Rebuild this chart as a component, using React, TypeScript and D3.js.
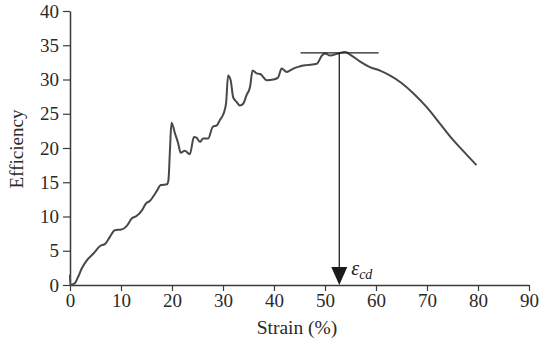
import { useEffect, useRef } from "react";
import * as d3 from "d3";

// Strain (%) vs efficiency
const strain = [
  0, 0.05, 0.5, 1.0, 1.6, 2.3, 3.3, 4.6, 5.9, 6.9, 7.8, 8.8, 10.1, 11.1, 12.1, 13.1, 14.1, 14.9,
  15.7, 16.3, 17.0, 17.8, 19.0, 19.3, 19.6, 19.9, 20.6, 21.2, 21.7, 22.5, 23.5, 24.3, 24.8, 25.5,
  26.1, 27.1, 28.0, 28.8, 29.4, 30.1, 30.6, 31.0, 31.5, 32.0, 32.7, 33.3, 34.0, 34.6, 35.3, 35.8,
  36.6, 37.3, 38.6, 39.9, 40.8, 41.5, 42.5, 43.1, 43.8, 45.0, 46.4, 48.4, 49.4, 50.0, 51.0, 52.6,
  53.9, 55.2, 56.9, 58.8, 60.8, 62.7, 65.0, 67.3, 69.9, 72.5, 75.2, 77.8, 79.7,
];
const efficiency = [
  1.5, 0, 0.1, 0.3, 1.2, 2.4, 3.6, 4.6, 5.7, 6.0, 7.0, 8.0, 8.1, 8.6, 9.7, 10.1, 10.9, 11.9,
  12.3, 12.9, 13.7, 14.6, 14.7, 15.3, 19.7, 23.7, 22.1, 20.7, 19.3, 19.6, 19.1, 21.6, 21.5, 20.9,
  21.4, 21.4, 23.1, 23.3, 24.1, 25.0, 26.5, 30.6, 29.9, 27.4, 26.7, 26.2, 26.5, 27.7, 28.9, 31.3,
  30.9, 30.8, 29.9, 30.0, 30.3, 31.6, 31.1, 31.3, 31.6, 31.9, 32.1, 32.3, 33.5, 33.8, 33.5, 33.8,
  34.0, 33.5, 32.6, 31.8, 31.3, 30.6, 29.5, 28.0, 26.0, 23.6, 21.1, 19.0, 17.5,
];

const xTicks = [0, 10, 20, 30, 40, 50, 60, 70, 80, 90];
const yTicks = [0, 5, 10, 15, 20, 25, 30, 35, 40];

// peak marker: horizontal line span and arrow position
const peakLine = [45.2, 60.5];
const peakValue = 33.9;
const peakStrain = 52.8;

export default function App() {
  const svgRef = useRef<SVGSVGElement>(null);

  useEffect(() => {
    if (!svgRef.current) return;
    const width = 539;
    const height = 351;
    const margin = { top: 11, right: 10, bottom: 66, left: 70 };
    const font = "'Liberation Serif', 'DejaVu Serif', serif";
    const ink = "#3a3a3a";

    const svg = d3.select(svgRef.current);
    svg.selectAll("*").remove();

    const x = d3.scaleLinear().domain([0, 90]).range([margin.left, width - margin.right]);
    const y = d3.scaleLinear().domain([0, 40]).range([height - margin.bottom, margin.top]);

    // Y axis
    const yAxis = svg.append("g")
      .attr("transform", `translate(${margin.left},0)`)
      .call(d3.axisLeft(y).tickValues(yTicks).tickSize(7).tickPadding(4).tickSizeOuter(0));
    yAxis.select(".domain").attr("stroke", ink).attr("stroke-width", 1.5);
    yAxis.selectAll(".tick line").attr("stroke", ink).attr("stroke-width", 1.2);
    yAxis.selectAll(".tick text")
      .attr("font-family", font).attr("font-size", "19px").attr("fill", "#2a2a2a");

    // X axis
    const xAxis = svg.append("g")
      .attr("transform", `translate(0,${height - margin.bottom})`)
      .call(d3.axisBottom(x).tickValues(xTicks).tickSize(6).tickPadding(3).tickSizeOuter(0));
    xAxis.select(".domain").attr("stroke", ink).attr("stroke-width", 1.5);
    xAxis.selectAll(".tick line").attr("stroke", ink).attr("stroke-width", 1.2);
    xAxis.selectAll(".tick text")
      .attr("font-family", font).attr("font-size", "19px").attr("fill", "#2a2a2a");

    // Axis titles
    svg.append("text")
      .attr("x", 297)
      .attr("y", 334)
      .attr("text-anchor", "middle")
      .attr("font-family", font)
      .attr("font-size", "19.5px")
      .attr("fill", "#2a2a2a")
      .text("Strain (%)");

    svg.append("text")
      .attr("transform", "rotate(-90)")
      .attr("x", -149)
      .attr("y", 23)
      .attr("text-anchor", "middle")
      .attr("font-family", font)
      .attr("font-size", "19px")
      .attr("fill", "#2a2a2a")
      .text("Efficiency");

    // Curve
    const pts: [number, number][] = strain.map((s, i) => [s, efficiency[i]]);
    const line = d3.line<[number, number]>()
      .x(d => x(d[0]))
      .y(d => y(d[1]))
      .curve(d3.curveMonotoneX);

    svg.append("path")
      .datum(pts)
      .attr("d", line)
      .attr("fill", "none")
      .attr("stroke", "#484848")
      .attr("stroke-width", 2)
      .attr("stroke-linejoin", "round");

    // Peak horizontal line
    svg.append("line")
      .attr("x1", x(peakLine[0]))
      .attr("x2", x(peakLine[1]))
      .attr("y1", y(peakValue))
      .attr("y2", y(peakValue))
      .attr("stroke", "#222")
      .attr("stroke-width", 1.3);

    // Arrow down to axis
    const ax = x(peakStrain);
    const tipY = y(0);
    svg.append("line")
      .attr("x1", ax).attr("x2", ax)
      .attr("y1", y(peakValue)).attr("y2", tipY - 16)
      .attr("stroke", "#222")
      .attr("stroke-width", 1.3);
    svg.append("path")
      .attr("d", `M${ax - 8},${tipY - 18} L${ax + 8},${tipY - 18} L${ax},${tipY} Z`)
      .attr("fill", "#1a1a1a");

    // epsilon_cd label
    const lbl = svg.append("text")
      .attr("x", ax + 12)
      .attr("y", tipY - 10)
      .attr("font-family", font)
      .attr("font-style", "italic")
      .attr("fill", "#1a1a1a");
    lbl.append("tspan").attr("font-size", "20px").text("ε");
    lbl.append("tspan").attr("font-size", "14px").attr("dy", 4).text("cd");
  }, []);

  return (
    <svg
      ref={svgRef}
      width={539}
      height={351}
      style={{ position: "absolute", left: 0, top: 0, background: "#fff" }}
    />
  );
}
